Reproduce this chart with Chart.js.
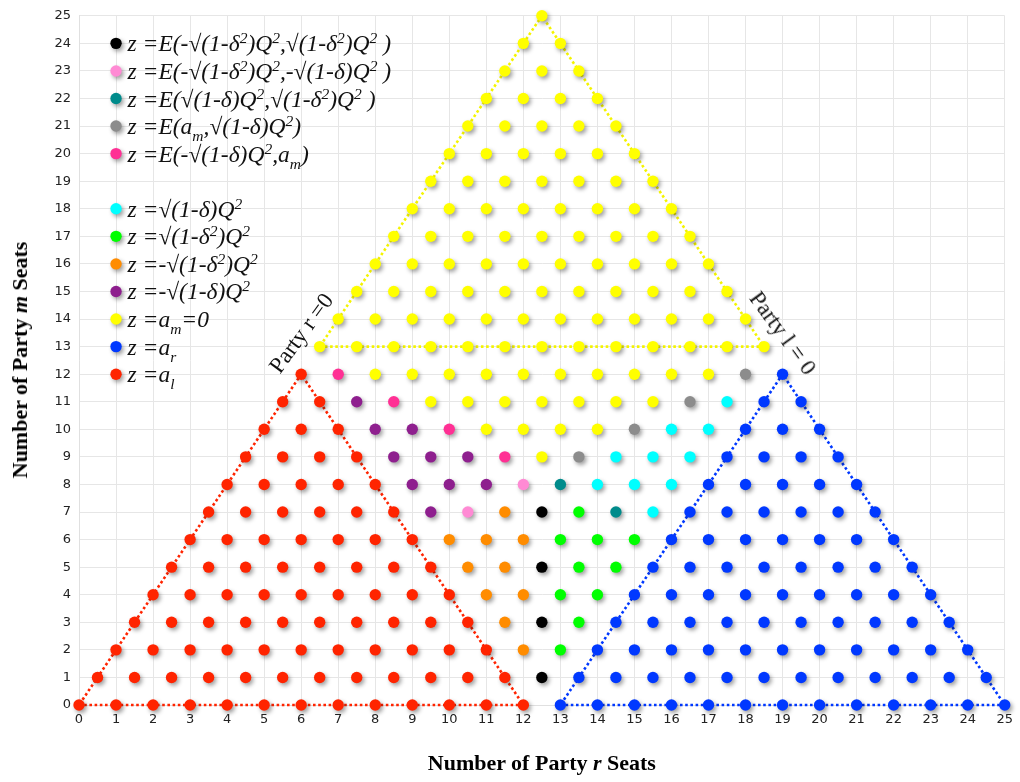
<!DOCTYPE html>
<html>
<head>
<meta charset="utf-8">
<script src="https://cdn.jsdelivr.net/npm/chart.js@4.4.1/dist/chart.umd.min.js"></script>
<style>
  html, body { margin: 0; padding: 0; background: #ffffff; }
  #wrap { position: relative; width: 1020px; height: 782px; overflow: hidden; }
  #c { position: absolute; left: 0; top: 0; }
  .lg { position: absolute; font-family: "Liberation Serif", "Times New Roman", serif; font-style: italic;
        font-size: 23.5px; color: #111; white-space: nowrap; line-height: 1; transform: translateY(-50%); }
  .lg sup { font-size: 66%; vertical-align: 0.55em; line-height: 0; }
  .lg sub { font-size: 66%; vertical-align: -0.45em; line-height: 0; }
  .ann { position: absolute; font-family: "Liberation Serif", "Times New Roman", serif; font-size: 23px;
         color: #111; white-space: nowrap; line-height: 1; }
  .axt { position: absolute; font-family: "Liberation Serif", "Times New Roman", serif; font-weight: bold;
         font-size: 22px; color: #000; white-space: nowrap; line-height: 1; }
</style>
</head>
<body>
<div id="wrap">
  <canvas id="c" width="1020" height="782" style="width:1020px;height:782px"></canvas>
</div>
<script>
// ---------------- DATA ----------------
const xTicks = [0,1,2,3,4,5,6,7,8,9,10,11,12,13,14,15,16,17,18,19,20,21,22,23,24,25];
const yTicks = [0,1,2,3,4,5,6,7,8,9,10,11,12,13,14,15,16,17,18,19,20,21,22,23,24,25];

// rows: [m, [r values]]
const redRows = [
  [0,  [0,1,2,3,4,5,6,7,8,9,10,11,12]],
  [1,  [0.5,1.5,2.5,3.5,4.5,5.5,6.5,7.5,8.5,9.5,10.5,11.5]],
  [2,  [1,2,3,4,5,6,7,8,9,10,11]],
  [3,  [1.5,2.5,3.5,4.5,5.5,6.5,7.5,8.5,9.5,10.5]],
  [4,  [2,3,4,5,6,7,8,9,10]],
  [5,  [2.5,3.5,4.5,5.5,6.5,7.5,8.5,9.5]],
  [6,  [3,4,5,6,7,8,9]],
  [7,  [3.5,4.5,5.5,6.5,7.5,8.5]],
  [8,  [4,5,6,7,8]],
  [9,  [4.5,5.5,6.5,7.5]],
  [10, [5,6,7]],
  [11, [5.5,6.5]],
  [12, [6]]
];
const blueRows = [
  [0,  [13,14,15,16,17,18,19,20,21,22,23,24,25]],
  [1,  [13.5,14.5,15.5,16.5,17.5,18.5,19.5,20.5,21.5,22.5,23.5,24.5]],
  [2,  [14,15,16,17,18,19,20,21,22,23,24]],
  [3,  [14.5,15.5,16.5,17.5,18.5,19.5,20.5,21.5,22.5,23.5]],
  [4,  [15,16,17,18,19,20,21,22,23]],
  [5,  [15.5,16.5,17.5,18.5,19.5,20.5,21.5,22.5]],
  [6,  [16,17,18,19,20,21,22]],
  [7,  [16.5,17.5,18.5,19.5,20.5,21.5]],
  [8,  [17,18,19,20,21]],
  [9,  [17.5,18.5,19.5,20.5]],
  [10, [18,19,20]],
  [11, [18.5,19.5]],
  [12, [19]]
];
const yellowRows = [
  [9,  [12.5]],
  [10, [11,12,13,14]],
  [11, [9.5,10.5,11.5,12.5,13.5,14.5,15.5]],
  [12, [8,9,10,11,12,13,14,15,16,17]],
  [13, [6.5,7.5,8.5,9.5,10.5,11.5,12.5,13.5,14.5,15.5,16.5,17.5,18.5]],
  [14, [7,8,9,10,11,12,13,14,15,16,17,18]],
  [15, [7.5,8.5,9.5,10.5,11.5,12.5,13.5,14.5,15.5,16.5,17.5]],
  [16, [8,9,10,11,12,13,14,15,16,17]],
  [17, [8.5,9.5,10.5,11.5,12.5,13.5,14.5,15.5,16.5]],
  [18, [9,10,11,12,13,14,15,16]],
  [19, [9.5,10.5,11.5,12.5,13.5,14.5,15.5]],
  [20, [10,11,12,13,14,15]],
  [21, [10.5,11.5,12.5,13.5,14.5]],
  [22, [11,12,13,14]],
  [23, [11.5,12.5,13.5]],
  [24, [12,13]],
  [25, [12.5]]
];
const blackRows   = [[1,[12.5]],[3,[12.5]],[5,[12.5]],[7,[12.5]]];
const pinkRows    = [[7,[10.5]],[8,[12]]];
const tealRows    = [[7,[14.5]],[8,[13]]];
const greyRows    = [[9,[13.5]],[10,[15]],[11,[16.5]],[12,[18]]];
const hotpinkRows = [[9,[11.5]],[10,[10]],[11,[8.5]],[12,[7]]];
const cyanRows    = [[7,[15.5]],[8,[14,15,16]],[9,[14.5,15.5,16.5]],[10,[16,17]],[11,[17.5]]];
const greenRows   = [[2,[13]],[3,[13.5]],[4,[13,14]],[5,[13.5,14.5]],[6,[13,14,15]],[7,[13.5]]];
const orangeRows  = [[2,[12]],[3,[11.5]],[4,[11,12]],[5,[10.5,11.5]],[6,[10,11,12]],[7,[11.5]]];
const purpleRows  = [[7,[9.5]],[8,[9,10,11]],[9,[8.5,9.5,10.5]],[10,[8,9]],[11,[7.5]]];

// triangle outlines [r, m]
const redTriangle    = [[0,0],[12,0],[6,12],[0,0]];
const blueTriangle   = [[13,0],[25,0],[19,12],[13,0]];
const yellowTriangle = [[6.5,13],[18.5,13],[12.5,25],[6.5,13]];

// legend
const legendLabels = [
  'z =E(-√(1-δ<sup>2</sup>)Q<sup>2</sup>,√(1-δ<sup>2</sup>)Q<sup>2</sup> )',
  'z =E(-√(1-δ<sup>2</sup>)Q<sup>2</sup>,-√(1-δ)Q<sup>2</sup> )',
  'z =E(√(1-δ)Q<sup>2</sup>,√(1-δ<sup>2</sup>)Q<sup>2</sup> )',
  'z =E(a<sub>m</sub>,√(1-δ)Q<sup>2</sup>)',
  'z =E(-√(1-δ)Q<sup>2</sup>,a<sub>m</sub>)',
  'z =√(1-δ)Q<sup>2</sup>',
  'z =√(1-δ<sup>2</sup>)Q<sup>2</sup>',
  'z =-√(1-δ<sup>2</sup>)Q<sup>2</sup>',
  'z =-√(1-δ)Q<sup>2</sup>',
  'z =a<sub>m</sub>=0',
  'z =a<sub>r</sub>',
  'z =a<sub>l</sub>'
];
const legendColors = ['#000000','#ff8ad4','#008b8b','#8c8c8c','#ff3094','#00ffff','#00ff00','#ff8c00','#8e1f8e','#ffff00','#0038ff','#ff2400'];
const legendM = [24,23,22,21,20,18,17,16,15,14,13,12];
const legendR = 1;

const xTitle = 'Number of Party <i>r</i> Seats';
const yTitle = 'Number of Party <i>m</i> Seats';
const annotations = [
  { text: 'Party r =0',  r: 6,  m: 13.5, angle: -54 },
  { text: 'Party l = 0', r: 19, m: 13.5, angle: 54 }
];

// ---------------- BUILD ----------------
const toPts = rows => rows.flatMap(([m, rs]) => rs.map(r => ({ x: r, y: m })));
const toLine = tri => tri.map(([r, m]) => ({ x: r, y: m }));

const pointSets = [
  { label: 'z = a_l', rows: redRows, color: legendColors[11] },
  { label: 'z = a_r', rows: blueRows, color: legendColors[10] },
  { label: 'z = a_m = 0', rows: yellowRows, color: legendColors[9] },
  { label: 'z = -√(1-δ)Q²', rows: purpleRows, color: legendColors[8] },
  { label: 'z = -√(1-δ²)Q²', rows: orangeRows, color: legendColors[7] },
  { label: 'z = √(1-δ²)Q²', rows: greenRows, color: legendColors[6] },
  { label: 'z = √(1-δ)Q²', rows: cyanRows, color: legendColors[5] },
  { label: 'z = E(-√(1-δ)Q²,a_m)', rows: hotpinkRows, color: legendColors[4] },
  { label: 'z = E(a_m,√(1-δ)Q²)', rows: greyRows, color: legendColors[3] },
  { label: 'z = E(√(1-δ)Q²,√(1-δ²)Q²)', rows: tealRows, color: legendColors[2] },
  { label: 'z = E(-√(1-δ²)Q²,-√(1-δ)Q²)', rows: pinkRows, color: legendColors[1] },
  { label: 'z = E(-√(1-δ²)Q²,√(1-δ²)Q²)', rows: blackRows, color: legendColors[0] }
];

const datasets = [];
pointSets.forEach(s => datasets.push({
  type: 'scatter', label: s.label, data: toPts(s.rows),
  backgroundColor: s.color, borderColor: s.color, borderWidth: 0,
  pointRadius: 5.7, pointHoverRadius: 5.7, clip: false, order: 1, isPoints: true
}));
[[redTriangle, legendColors[11]], [blueTriangle, legendColors[10]], [yellowTriangle, '#f4f400']].forEach(([tri, col]) => datasets.push({
  type: 'scatter', label: 'outline', data: toLine(tri), showLine: true,
  borderColor: col, backgroundColor: col, borderWidth: 2.6, borderDash: [2.6, 2.6],
  pointRadius: 0, pointHoverRadius: 0, fill: false, tension: 0, clip: false, order: 2
}));

const shadowPlugin = {
  id: 'shadow',
  beforeDatasetDraw(chart, args) {
    if (chart.data.datasets[args.index].isPoints) {
      const c = chart.ctx; c.save();
      c.shadowColor = 'rgba(0,0,0,0.38)'; c.shadowBlur = 4; c.shadowOffsetX = 2; c.shadowOffsetY = 2.5;
    }
  },
  afterDatasetDraw(chart, args) {
    if (chart.data.datasets[args.index].isPoints) chart.ctx.restore();
  },
  afterDatasetsDraw(chart) {
    const c = chart.ctx, xs = chart.scales.x, ys = chart.scales.y;
    c.save();
    c.shadowColor = 'rgba(0,0,0,0.38)'; c.shadowBlur = 4; c.shadowOffsetX = 2; c.shadowOffsetY = 2.5;
    legendM.forEach((m, i) => {
      c.beginPath();
      c.fillStyle = legendColors[i];
      c.arc(xs.getPixelForValue(legendR), ys.getPixelForValue(m), 5.7, 0, Math.PI * 2);
      c.fill();
    });
    c.restore();
  }
};

const tickFont = { family: 'DejaVu Sans', size: 13 };
const chart = new Chart(document.getElementById('c'), {
  data: { datasets },
  options: {
    responsive: false, animation: false, devicePixelRatio: 1,
    layout: { padding: { left: 0, right: 12, top: 8.5, bottom: 0 } },
    plugins: { legend: { display: false }, tooltip: { enabled: false } },
    scales: {
      x: {
        type: 'linear', min: 0, max: 25,
        afterBuildTicks: s => { s.ticks = xTicks.map(v => ({ value: v })); },
        ticks: { font: tickFont, color: '#222', padding: 7, maxRotation: 0, autoSkip: false },
        grid: { color: '#e6e6e6', lineWidth: 1, drawTicks: false },
        border: { display: true, color: '#e0e0e0' },
        afterFit: s => { s.height = 77; }
      },
      y: {
        type: 'linear', min: 0, max: 25,
        afterBuildTicks: s => { s.ticks = yTicks.map(v => ({ value: v })); },
        ticks: { font: tickFont, color: '#222', padding: 8, autoSkip: false },
        grid: { color: '#e6e6e6', lineWidth: 1, drawTicks: false },
        border: { display: true, color: '#e0e0e0' },
        afterFit: s => { s.width = 79; }
      }
    }
  },
  plugins: [shadowPlugin]
});

// ---------------- HTML TEXT ----------------
const wrap = document.getElementById('wrap');
const xs = chart.scales.x, ys = chart.scales.y, ca = chart.chartArea;
legendLabels.forEach((t, i) => {
  const d = document.createElement('div');
  d.className = 'lg';
  d.innerHTML = t;
  d.style.left = (xs.getPixelForValue(legendR) + 11.5) + 'px';
  d.style.top = (ys.getPixelForValue(legendM[i]) + 1) + 'px';
  wrap.appendChild(d);
});
annotations.forEach(a => {
  const d = document.createElement('div');
  d.className = 'ann';
  d.textContent = a.text;
  d.style.left = xs.getPixelForValue(a.r) + 'px';
  d.style.top = ys.getPixelForValue(a.m) + 'px';
  d.style.transform = 'translate(-50%,-50%) rotate(' + a.angle + 'deg)';
  wrap.appendChild(d);
});
const xt = document.createElement('div');
xt.className = 'axt'; xt.innerHTML = xTitle;
xt.style.left = ((ca.left + ca.right) / 2) + 'px'; xt.style.top = '763px';
xt.style.transform = 'translate(-50%,-50%)';
wrap.appendChild(xt);
const yt = document.createElement('div');
yt.className = 'axt'; yt.innerHTML = yTitle;
yt.style.left = '20px'; yt.style.top = ((ca.top + ca.bottom) / 2) + 'px';
yt.style.transform = 'translate(-50%,-50%) rotate(-90deg)';
wrap.appendChild(yt);
</script>
</body>
</html>
